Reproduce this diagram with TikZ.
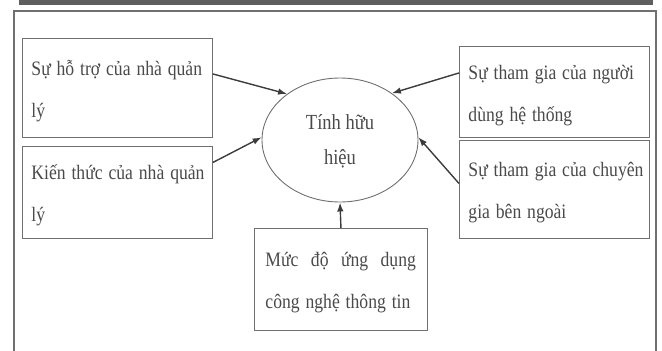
\documentclass[tikz,border=0pt]{standalone}
\usepackage{fontspec}
\usepackage{graphicx}
\setmainfont{Liberation Serif}
\usetikzlibrary{arrows.meta,shapes.geometric}
\definecolor{txtgray}{HTML}{4A4A4A}
\definecolor{linegray}{HTML}{707070}
\definecolor{arrowgray}{HTML}{3C3C3C}
\definecolor{bargray}{HTML}{5E5E5E}
% chu hep theo chieu ngang
\newcommand{\hep}[1]{\scalebox{0.86}[1]{\begin{tabular}{@{}l@{}}#1\end{tabular}}}

\begin{document}
\begin{tikzpicture}[x=1pt,y=-1pt,
  hop/.style={draw=linegray, line width=0.9pt, text=txtgray, anchor=north west,
    inner xsep=9pt, inner ysep=0pt, align=left, font=\fontsize{20.5}{42}\selectfont},
  muiten/.style={draw=arrowgray, line width=1.4pt, -{Latex[length=9pt,width=6.5pt]}}
]
\useasboundingbox (0,0) rectangle (662,351);
\clip (0,0) rectangle (662,351);
% khung ngoai
\fill[bargray] (19,0) rectangle (653,5);
\draw[linegray, line width=1.1pt] (14,360) -- (14,11) -- (656,11) -- (656,360);

\node[ellipse, draw=linegray, line width=0.9pt, minimum width=156pt, minimum height=124pt,
  inner sep=0pt, text=txtgray, font=\fontsize{21.5}{35}\selectfont]
  (hieuqua) at (340,140) {\scalebox{0.86}[1]{\begin{tabular}{@{}c@{}}Tính hữu\\hiệu\end{tabular}}};

\node[hop, minimum width=190pt, minimum height=99pt, text width=172pt] (hotro) at (22,38)
  {\hep{Sự hỗ trợ của nhà quản\\lý}};
\node[hop, minimum width=190pt, minimum height=92pt, text width=172pt] (kienthuc) at (22,146)
  {\hep{Kiến thức của nhà quản\\lý}};
\node[hop, minimum width=190pt, minimum height=91pt, text width=172pt] (nguoidung) at (459,46)
  {\hep{Sự tham gia của người\\dùng hệ thống}};
\node[hop, minimum width=190pt, minimum height=98pt, text width=172pt] (chuyengia) at (459,140)
  {\hep{Sự tham gia của chuyên\\gia bên ngoài}};
\node[hop, inner xsep=11pt, minimum width=173pt, minimum height=102pt, text width=151pt] (ungdung) at (254,228)
  {\hep{\hbox to 175pt{Mức\hfill độ\hfill ứng\hfill dụng}\\công nghệ thông tin}};

\draw[muiten] ([yshift=14pt]hotro.east) -- (hieuqua.139);
\draw[muiten] ([yshift=30pt]kienthuc.east) -- (hieuqua.178);
\draw[muiten] ([yshift=19pt]nguoidung.west) -- (hieuqua.42);
\draw[muiten] ([yshift=6pt]chuyengia.west) -- (hieuqua.2);
\draw[muiten] (ungdung.north) -- (hieuqua.south);
\end{tikzpicture}
\end{document}
